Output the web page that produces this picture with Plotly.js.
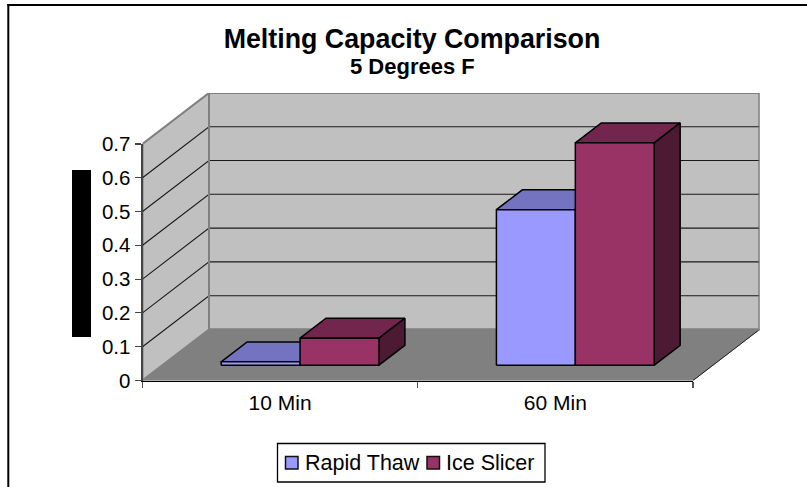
<!DOCTYPE html>
<html>
<head>
<meta charset="utf-8">
<script src="https://cdn.plot.ly/plotly-3.0.1.min.js"></script>
<style>html,body{margin:0;padding:0;background:#fff;overflow:hidden}#chart{width:807px;height:487px}</style>
</head>
<body>
<div id="chart"></div>
<script>
// ---- chart content ----
const categories = ['10 Min', '60 Min'];
const seriesNames = ['Rapid Thaw', 'Ice Slicer'];
const rapidThaw = [0.01, 0.46];
const iceSlicer = [0.08, 0.658];
const tickValues = [0, 0.1, 0.2, 0.3, 0.4, 0.5, 0.6, 0.7];
const tickLabels = ['0', '0.1', '0.2', '0.3', '0.4', '0.5', '0.6', '0.7'];
const chartTitle = 'Melting Capacity Comparison';
const chartSubtitle = '5 Degrees F';

// ---- styles ----
const frontColors = ['#9999FF', '#993366'];
const topColors = ['#7373BF', '#73264D'];
const sideColors = ['#4D4D80', '#4D1A33'];
const FONT = 'Arial, "Liberation Sans", sans-serif';
const W = 807, H = 487;
const px = v => v / W, py = v => 1 - v / H;

// ---- oblique projection, in axis units ----
const PLOT = {left: 142.5, right: 693, bottom: 380.5, top: 143.9, depthPx: 66.5, risePx: 51};
const catPx = (PLOT.right - PLOT.left) / categories.length;
const valPx = (PLOT.bottom - PLOT.top) / 0.7;
const depthX = PLOT.depthPx / catPx, depthY = PLOT.risePx / valPx;
const xMin = -0.5, xMax = categories.length - 0.5, vMax = 0.7;
const barWidth = 0.2867, d0 = 0.3, d1 = 0.69;
const P = (c, v, d) => [c + depthX * d, v + depthY * d];

function poly(points, fill, lineColor, lineWidth, closed) {
  const pts = closed === false ? points : points.concat([points[0]]);
  return {
    type: 'scatter', mode: 'lines', xaxis: 'x', yaxis: 'y',
    x: pts.map(p => p[0]), y: pts.map(p => p[1]),
    fill: fill ? 'toself' : 'none', fillcolor: fill || undefined,
    line: {color: lineColor, width: lineWidth, simplify: false},
    hoverinfo: 'skip', showlegend: false
  };
}

const traces = [];
// walls and floor
traces.push(poly([P(xMin,0,0), P(xMin,0,1), P(xMin,vMax,1), P(xMin,vMax,0)], '#C0C0C0', '#808080', 2));
traces.push(poly([P(xMin,0,1), P(xMax,0,1), P(xMax,vMax,1), P(xMin,vMax,1)], '#C0C0C0', '#808080', 2));
traces.push(poly([P(xMin,0,0), P(xMax,0,0), P(xMax,0,1), P(xMin,0,1)], '#808080', '#808080', 1));
// gridlines on walls
tickValues.filter(v => v > 0 && v < vMax).forEach(v => {
  traces.push(poly([P(xMin,v,0), P(xMin,v,1), P(xMax,v,1)], null, '#1a1a1a', 1.1, false));
});
// floor edges
traces.push(poly([P(xMax,0,0), P(xMax,0,1)], null, '#222222', 1, false));
traces.push(poly([P(xMin,0,1), P(xMax,0,1), P(xMax,vMax,1), P(xMin,vMax,1), P(xMin,0,1)], null, '#808080', 2, false));

// boxes (back to front: left series first)
[rapidThaw, iceSlicer].forEach((vals, s) => {
  vals.forEach((v, i) => {
    const a = i + (s - 1) * barWidth, b = a + barWidth;
    traces.push(poly([P(a,v,d0), P(b,v,d0), P(b,v,d1), P(a,v,d1)], topColors[s], '#000', 1.5));
    traces.push(poly([P(b,0,d0), P(b,0,d1), P(b,v,d1), P(b,v,d0)], sideColors[s], '#000', 1.5));
    traces.push(poly([P(a,0,d0), P(b,0,d0), P(b,v,d0), P(a,v,d0)], frontColors[s], '#000', 1.5));
  });
});
// carries the visible value / category axes
traces.push({type:'scatter', mode:'markers', xaxis:'x2', yaxis:'y2', x:categories, y:iceSlicer,
  marker:{opacity:0}, hoverinfo:'skip', showlegend:false, cliponaxis:false});

// legend pieces
const LEG = {l:277.5, r:545, t:443.5, b:482, swatch:[[285.5,298],[427,439.5]], text:[305,446], cy:462.5};
const shapes = [
  {type:'line', xref:'paper', yref:'paper', x0:px(8.3), x1:px(8.3), y0:py(4), y1:py(487), line:{color:'#000',width:2}},
  {type:'line', xref:'paper', yref:'paper', x0:px(7.3), x1:px(807), y0:py(5), y1:py(5), line:{color:'#000',width:2}},
  {type:'rect', xref:'paper', yref:'paper', x0:px(72), x1:px(91), y0:py(170), y1:py(337), fillcolor:'#000', line:{width:0}},
  {type:'rect', xref:'paper', yref:'paper', x0:px(LEG.l), x1:px(LEG.r), y0:py(LEG.t), y1:py(LEG.b), fillcolor:'#fff', line:{color:'#000',width:1.3}}
];
const annotations = [
  {xref:'paper', yref:'paper', x:px(412.5), y:py(67), text:'<b>'+chartSubtitle+'</b>', showarrow:false,
   font:{family:FONT,size:22,color:'#000'}, xanchor:'center', yanchor:'middle'}
];
seriesNames.forEach((n, s) => {
  shapes.push({type:'rect', xref:'paper', yref:'paper', x0:px(LEG.swatch[s][0]), x1:px(LEG.swatch[s][1]),
    y0:py(LEG.cy-6), y1:py(LEG.cy+6.5), fillcolor:frontColors[s], line:{color:'#111',width:1.5}});
  annotations.push({xref:'paper', yref:'paper', x:px(LEG.text[s]), y:py(LEG.cy), text:n, showarrow:false,
    font:{family:FONT,size:21.5,color:'#000'}, xanchor:'left', yanchor:'middle', xshift:-2});
});

const layout = {
  width: W, height: H,
  margin: {l:0, r:0, t:0, b:0, pad:0},
  paper_bgcolor:'#fff', plot_bgcolor:'rgba(0,0,0,0)',
  showlegend:false, hovermode:false,
  title:{text:'<b>'+chartTitle+'</b>', x:px(412), xanchor:'center', y:py(39), yanchor:'middle',
         font:{family:FONT,size:26.8,color:'#000'}},
  xaxis:{domain:[px(PLOT.left), px(PLOT.right+PLOT.depthPx)], range:[xMin, xMax+depthX], visible:false, fixedrange:true},
  yaxis:{domain:[py(PLOT.bottom), py(PLOT.top-PLOT.risePx)], range:[0, vMax+depthY], visible:false, fixedrange:true},
  xaxis2:{domain:[px(PLOT.left), px(PLOT.right)], anchor:'y2', type:'category', categoryorder:'array', categoryarray:categories,
    range:[-0.5,1.5], tickson:'boundaries', ticks:'outside', ticklen:6, tickwidth:1.2, tickcolor:'#555',
    ticklabelstandoff:3,
    showline:true, linecolor:'#000', linewidth:1.5, showgrid:false, zeroline:false, fixedrange:true,
    tickfont:{family:FONT,size:21,color:'#000'}},
  yaxis2:{domain:[py(PLOT.bottom), py(PLOT.top)], anchor:'x2', range:[0,0.7], tickmode:'array',
    tickvals:tickValues, ticktext:tickLabels, ticks:'outside', ticklen:6, tickwidth:1.2, tickcolor:'#444',
    showline:true, linecolor:'#444', linewidth:2, showgrid:false, zeroline:false, fixedrange:true,
    tickfont:{family:FONT,size:20.5,color:'#000'}},
  shapes, annotations
};
Plotly.newPlot('chart', traces, layout, {displayModeBar:false, staticPlot:true});
</script>
</body>
</html>
